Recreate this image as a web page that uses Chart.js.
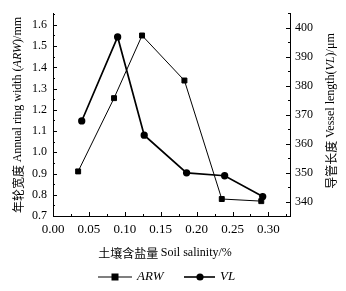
<!DOCTYPE html>
<html>
<head>
<meta charset="utf-8">
<script src="https://cdn.jsdelivr.net/npm/chart.js@4/dist/chart.umd.min.js"></script>
<style>
  html, body { margin: 0; padding: 0; background: #fff; }
  #wrap { width: 346px; height: 291px; }
</style>
</head>
<body>
<div id="wrap"><canvas id="myChart"></canvas></div>
<script>
// soil salinity (%) of each plot
var salinityARW = [0.035, 0.085, 0.124, 0.183, 0.235, 0.290];
var salinityVL  = [0.040, 0.090, 0.127, 0.186, 0.239, 0.292];

// annual ring width (mm) and vessel length (um)
var arwValues = [0.91, 1.255, 1.55, 1.338, 0.78, 0.77];
var vlValues  = [367.8, 396.8, 362.9, 349.9, 348.9, 341.7];

// tick labels
var xTicks   = [0, 0.05, 0.10, 0.15, 0.20, 0.25, 0.30];
var arwTicks = [0.7, 0.8, 0.9, 1.0, 1.1, 1.2, 1.3, 1.4, 1.5, 1.6];
var vlTicks  = [340, 350, 360, 370, 380, 390, 400];

var SERIF = '"Liberation Serif", "Times New Roman", serif';
var CJK = '"Noto Sans CJK SC", sans-serif';

Chart.defaults.color = '#000';

function toPoints(xs, ys) {
  var pts = [];
  for (var i = 0; i < xs.length; i++) {
    pts.push({ x: xs[i], y: ys[i] });
  }
  return pts;
}

// write a row of text pieces (different fonts) centred on cx, cy
function drawMixed(ctx, parts, cx, cy, rot) {
  ctx.save();
  ctx.translate(cx, cy);
  ctx.rotate(rot);
  ctx.textBaseline = 'middle';
  ctx.textAlign = 'left';
  ctx.fillStyle = '#000';
  var total = 0;
  parts.forEach(function (p) { ctx.font = p.font; p.w = ctx.measureText(p.text).width; total += p.w; });
  var x = -total / 2;
  parts.forEach(function (p) { ctx.font = p.font; ctx.fillText(p.text, x, 0); x += p.w; });
  ctx.restore();
}

// inward tick marks, major + minor
var tickPlugin = {
  id: 'inwardTicks',
  afterDraw: function (chart) {
    var ctx = chart.ctx;
    var area = chart.chartArea;
    var sx = chart.scales.x, sl = chart.scales.y, sr = chart.scales.y1;
    ctx.save();
    ctx.strokeStyle = '#000';
    ctx.lineWidth = 1;
    ctx.beginPath();
    var v, p;
    for (v = 0; v <= 0.33; v += 0.025) {
      p = Math.round(sx.getPixelForValue(v)) + 0.5;
      var major = Math.abs(v / 0.05 - Math.round(v / 0.05)) < 0.01;
      ctx.moveTo(p, area.bottom);
      ctx.lineTo(p, area.bottom - (major ? 4 : 2));
    }
    for (v = 0.7; v <= 1.66; v += 0.05) {
      p = Math.round(sl.getPixelForValue(v)) + 0.5;
      var majorL = Math.abs(v / 0.1 - Math.round(v / 0.1)) < 0.01;
      ctx.moveTo(area.left, p);
      ctx.lineTo(area.left + (majorL ? 4 : 2), p);
    }
    for (v = 335; v <= 405; v += 5) {
      p = Math.round(sr.getPixelForValue(v)) + 0.5;
      var majorR = v % 10 === 0;
      ctx.moveTo(area.right, p);
      ctx.lineTo(area.right - (majorR ? 4 : 2), p);
    }
    ctx.stroke();
    ctx.restore();

    // axis titles
    drawMixed(ctx, [
      { text: '年轮宽度 ', font: '12px ' + CJK },
      { text: 'Annual ring width (', font: '12px ' + SERIF },
      { text: 'ARW', font: 'italic 12px ' + SERIF },
      { text: ')/mm', font: '12px ' + SERIF }
    ], 18, 115, -Math.PI / 2);
    drawMixed(ctx, [
      { text: '导管长度 ', font: '12px ' + CJK },
      { text: 'Vessel length(', font: '12px ' + SERIF },
      { text: 'VL', font: 'italic 12px ' + SERIF },
      { text: ')/μm', font: '12px ' + SERIF }
    ], 331, 111, -Math.PI / 2);
    drawMixed(ctx, [
      { text: '土壤含盐量 ', font: '12px ' + CJK },
      { text: 'Soil salinity/%', font: '12px ' + SERIF }
    ], 165, 253, 0);

    // legend
    var ly = 277;
    ctx.save();
    ctx.fillStyle = '#000';
    ctx.strokeStyle = '#000';
    ctx.lineWidth = 1.2;
    ctx.beginPath(); ctx.moveTo(98, ly); ctx.lineTo(132, ly); ctx.stroke();
    ctx.fillRect(111.5, ly - 3.5, 7, 7);
    ctx.lineWidth = 1.6;
    ctx.beginPath(); ctx.moveTo(184, ly); ctx.lineTo(215, ly); ctx.stroke();
    ctx.beginPath(); ctx.arc(200, ly, 3.6, 0, Math.PI * 2); ctx.fill();
    ctx.font = 'italic 13px ' + SERIF;
    ctx.textBaseline = 'middle';
    ctx.fillText('ARW', 137, ly);
    ctx.fillText('VL', 220, ly);
    ctx.restore();
  }
};

function setTicks(list) {
  return function (scale) {
    scale.ticks = list.map(function (v) { return { value: v }; });
  };
}

var chart = new Chart(document.getElementById('myChart'), {
  type: 'line',
  data: {
    datasets: [
      {
        label: 'ARW',
        data: toPoints(salinityARW, arwValues),
        yAxisID: 'y',
        borderColor: '#000',
        backgroundColor: '#000',
        borderWidth: 1,
        pointStyle: 'rect',
        pointRadius: 3.5,
        pointHoverRadius: 3.5,
        tension: 0
      },
      {
        label: 'VL',
        data: toPoints(salinityVL, vlValues),
        yAxisID: 'y1',
        borderColor: '#000',
        backgroundColor: '#000',
        borderWidth: 1.7,
        pointStyle: 'circle',
        pointRadius: 2.8,
        pointHoverRadius: 2.8,
        tension: 0
      }
    ]
  },
  options: {
    responsive: true,
    maintainAspectRatio: false,
    animation: false,
    layout: { padding: { top: 13, left: 0, right: 0, bottom: 0 } },
    plugins: {
      legend: { display: false },
      tooltip: { enabled: false }
    },
    scales: {
      x: {
        type: 'linear',
        min: 0,
        max: 0.33,
        afterBuildTicks: setTicks(xTicks),
        afterFit: function (s) { s.height = 75; },
        grid: { display: false, drawTicks: false },
        border: { display: true, color: '#000', width: 1 },
        ticks: {
          padding: 6,
          maxRotation: 0,
          autoSkip: false,
          font: { family: SERIF, size: 13 },
          callback: function (v) { return Number(v).toFixed(2); }
        }
      },
      y: {
        position: 'left',
        min: 0.7,
        max: 1.655,
        afterBuildTicks: setTicks(arwTicks),
        afterFit: function (s) { s.width = 53; },
        grid: { display: false, drawTicks: false },
        border: { display: true, color: '#000', width: 1 },
        ticks: {
          padding: 6,
          autoSkip: false,
          font: { family: SERIF, size: 12 },
          callback: function (v) { return Number(v).toFixed(1); }
        }
      },
      y1: {
        position: 'right',
        min: 335,
        max: 405,
        afterBuildTicks: setTicks(vlTicks),
        afterFit: function (s) { s.width = 56; },
        grid: { display: false, drawTicks: false },
        border: { display: true, color: '#000', width: 1 },
        ticks: {
          padding: 5,
          autoSkip: false,
          font: { family: SERIF, size: 12 }
        }
      }
    }
  },
  plugins: [tickPlugin]
});
</script>
</body>
</html>
